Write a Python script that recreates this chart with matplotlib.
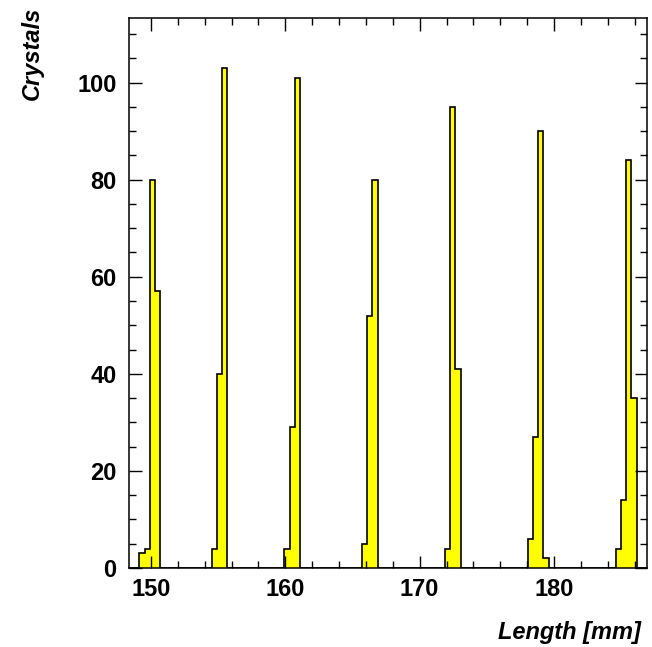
import numpy as np
import matplotlib.pyplot as plt
from matplotlib.ticker import MultipleLocator

# histogram binning
nbins = 100
xlo, xhi = 148.37, 186.92

# non-empty bins and their contents
bins = [2, 3, 4, 5,
        16, 17, 18,
        30, 31, 32,
        45, 46, 47,
        61, 62, 63,
        77, 78, 79, 80,
        94, 95, 96, 97]
counts = [3, 4, 80, 57,
          4, 40, 103,
          4, 29, 101,
          5, 52, 80,
          4, 95, 41,
          6, 27, 90, 2,
          4, 14, 84, 35]

edges = np.linspace(xlo, xhi, nbins + 1)
h = np.zeros(nbins)
h[bins] = counts

plt.rcParams['font.family'] = ['Liberation Sans', 'DejaVu Sans']

fig = plt.figure(figsize=(6.52, 6.47), dpi=100)
ax = fig.add_axes([129 / 652, 79 / 647, 518 / 652, 550 / 647])

ax.stairs(h, edges, fill=True, color='#ffff00', linewidth=0)
ax.stairs(h, edges, color='black', linewidth=1.2)

ax.set_xlim(xlo, xhi)
ax.set_ylim(0, 1.1 * h.max())

ax.xaxis.set_major_locator(MultipleLocator(10))
ax.xaxis.set_minor_locator(MultipleLocator(2))
ax.yaxis.set_major_locator(MultipleLocator(20))
ax.yaxis.set_minor_locator(MultipleLocator(5))
ax.tick_params(which='both', direction='in', top=True, right=True,
               labelsize=17, width=1)
ax.tick_params(which='major', length=9)
ax.tick_params(axis='x', which='major', pad=7)
ax.tick_params(axis='y', which='major', pad=9)
ax.tick_params(which='minor', length=5)
for lab in ax.get_xticklabels() + ax.get_yticklabels():
    lab.set_fontweight('bold')
for s in ax.spines.values():
    s.set_linewidth(1.1)

fig.text(32 / 652, 1 - 7 / 647, 'Crystals', rotation=90, ha='center', va='top',
         fontsize=17, fontweight='bold', fontstyle='italic')
fig.text(641 / 652, 1 - 632 / 647, 'Length [mm]', ha='right', va='center',
         fontsize=17, fontweight='bold', fontstyle='italic')

fig.savefig('out.png', dpi=100)
